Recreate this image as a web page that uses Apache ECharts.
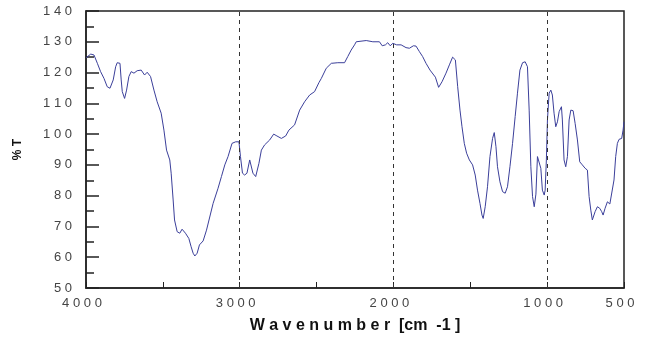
<!DOCTYPE html>
<html>
<head>
<meta charset="utf-8">
<script src="https://cdn.jsdelivr.net/npm/echarts@6/dist/echarts.min.js"></script>
<style>
  html, body { margin: 0; padding: 0; background: #fff; }
  #chart { width: 646px; height: 340px; }
</style>
</head>
<body>
<div id="chart"></div>
<script>
// IR transmission spectrum: wavenumber (cm-1) vs %T
const wavenumber = [
  4000, 3969, 3948, 3926, 3905, 3883, 3862, 3844, 3823, 3807, 3797, 3779, 3771, 3764, 3749, 3736,
  3721, 3706, 3688, 3667, 3641, 3619, 3602, 3580, 3558, 3537, 3511, 3493, 3476, 3455, 3446, 3433,
  3424, 3407, 3390, 3375, 3353, 3331, 3316, 3303, 3292, 3277, 3262, 3238, 3216, 3173, 3141, 3119,
  3097, 3076, 3050, 3026, 3005, 2995, 2982, 2968, 2953, 2935, 2924, 2914, 2896, 2875, 2859, 2838,
  2805, 2779, 2758, 2729, 2701, 2680, 2643, 2610, 2578, 2545, 2513, 2485, 2469, 2437, 2404, 2362,
  2318, 2297, 2275, 2253, 2242, 2177, 2134, 2091, 2073, 2052, 2037, 2021, 2004, 1979, 1950, 1918,
  1896, 1870, 1853, 1831, 1810, 1788, 1762, 1727, 1706, 1684, 1658, 1636, 1615, 1597, 1582, 1567,
  1554, 1539, 1524, 1506, 1485, 1468, 1453, 1437, 1424, 1416, 1403, 1388, 1372, 1355, 1344, 1333,
  1323, 1307, 1290, 1273, 1258, 1242, 1225, 1208, 1193, 1177, 1160, 1143, 1128, 1117, 1106, 1095,
  1084, 1073, 1063, 1052, 1041, 1031, 1019, 1013, 1005, 998, 987, 976, 966, 955, 944, 933,
  922, 907, 901, 890, 879, 868, 857, 846, 831, 818, 803, 788, 771, 753, 738, 727,
  716, 706, 688, 673, 658, 645, 636, 623, 608, 592, 579, 565, 554, 543, 532, 515,
  506, 500
];
const transmittance = [
  124.8, 126.0, 125.7, 123.0, 120.3, 118.1, 115.4, 114.9, 117.6, 121.9, 123.2, 123.0, 117.6, 113.8, 111.6, 114.3,
  118.7, 120.3, 119.8, 120.6, 120.8, 119.2, 120.1, 118.7, 114.3, 110.5, 106.8, 101.3, 94.8, 91.6, 87.3, 78.6,
  72.1, 68.3, 67.8, 69.1, 67.8, 66.1, 63.4, 61.3, 60.4, 61.3, 64.0, 65.3, 68.8, 77.5, 82.4, 86.2,
  90.0, 92.7, 97.0, 97.5, 97.5, 92.7, 87.3, 86.7, 87.3, 91.6, 91.0, 87.3, 86.2, 90.5, 94.8, 96.5,
  98.1, 100.0, 99.4, 98.6, 99.4, 101.3, 103.0, 107.8, 110.5, 112.7, 113.8, 116.7, 118.1, 121.4, 123.0, 123.2,
  123.2, 125.2, 127.3, 129.0, 130.0, 130.4, 130.0, 130.0, 128.7, 129.0, 129.7, 128.7, 129.5, 129.0, 129.0, 128.1,
  127.9, 128.7, 128.6, 126.8, 125.2, 123.0, 120.8, 118.5, 115.2, 117.0, 119.8, 122.5, 125.0, 124.1, 115.4, 107.8,
  102.4, 97.0, 93.8, 91.6, 90.0, 86.7, 81.8, 77.5, 73.7, 72.6, 76.4, 82.9, 92.7, 98.6, 100.5, 95.9,
  89.4, 84.5, 81.3, 80.8, 82.9, 89.4, 97.0, 105.7, 113.3, 120.8, 123.2, 123.5, 121.9, 107.8, 89.4, 79.7,
  76.4, 80.5, 92.7, 93.2, 88.9, 81.8, 80.2, 81.8, 91.6, 104.6, 113.3, 114.3, 112.7, 106.8, 102.4, 104.0,
  107.3, 108.9, 104.6, 91.6, 89.4, 92.7, 104.6, 107.8, 107.6, 103.5, 98.1, 91.0, 90.0, 88.9, 88.3, 79.7,
  75.3, 72.1, 74.8, 76.4, 75.9, 74.8, 73.7, 75.9, 78.0, 77.3, 77.5, 85.1, 92.7, 97.0, 98.3, 98.6,
  101.3, 104.0
];

// Tick labels on the wavenumber axis (unlabelled ticks fall in between)
const xTickLabels = { 4000: '4 0 0 0', 3000: '3 0 0 0', 2000: '2 0 0 0', 1000: '1 0 0 0', 500: '5 0 0' };
// Dashed reference lines
const guideLines = [3000, 2000, 1000];

const spaced = v => String(v).split('').join(' ');

const chart = echarts.init(document.getElementById('chart'), null, { renderer: 'canvas' });

chart.setOption({
  backgroundColor: '#ffffff',
  animation: false,
  grid: {
    left: 86, right: 22, top: 11, bottom: 52,
    show: true, borderColor: '#222', borderWidth: 1.5, backgroundColor: 'transparent'
  },
  xAxis: {
    type: 'value',
    inverse: true,
    min: 500, max: 4000, interval: 500,
    name: 'W a v e n u m b e r  [cm  -1 ]',
    nameLocation: 'middle',
    nameGap: 30,
    nameTextStyle: { fontFamily: 'Liberation Sans', fontWeight: 'bold', fontSize: 16, color: '#111' },
    axisLine: { show: true, onZero: false, lineStyle: { color: '#222', width: 1.5 } },
    axisTick: { show: true, inside: true, length: 6, lineStyle: { color: '#222', width: 1 } },
    axisLabel: {
      show: true, margin: 9, color: '#444', fontFamily: 'Liberation Sans', fontSize: 13,
      padding: [0, 8, 0, 0],
      formatter: v => xTickLabels[v] || ''
    },
    splitLine: { show: false }
  },
  yAxis: {
    type: 'value',
    min: 50, max: 140, interval: 10,
    name: '% T',
    nameLocation: 'middle',
    nameGap: 62,
    nameRotate: 90,
    nameTextStyle: { fontFamily: 'Liberation Sans', fontWeight: 'bold', fontSize: 12, color: '#111' },
    axisLine: { show: true, lineStyle: { color: '#222', width: 1.5 } },
    axisTick: { show: true, inside: true, length: 13, lineStyle: { color: '#222', width: 1.5 } },
    minorTick: { show: true, splitNumber: 2, length: 8, lineStyle: { color: '#222', width: 1.5 } },
    axisLabel: {
      show: true, margin: 14, color: '#444', fontFamily: 'Liberation Sans', fontSize: 13,
      formatter: v => spaced(v)
    },
    splitLine: { show: false }
  },
  series: [{
    type: 'line',
    data: wavenumber.map((w, i) => [w, transmittance[i]]),
    showSymbol: false,
    symbol: 'none',
    lineStyle: { color: '#3b3f9a', width: 1 },
    z: 3,
    markLine: {
      silent: true,
      symbol: ['none', 'none'],
      label: { show: false },
      lineStyle: { color: '#333', type: [4, 4], width: 1 },
      data: guideLines.map(v => ({ xAxis: v }))
    }
  }]
});
</script>
</body>
</html>
